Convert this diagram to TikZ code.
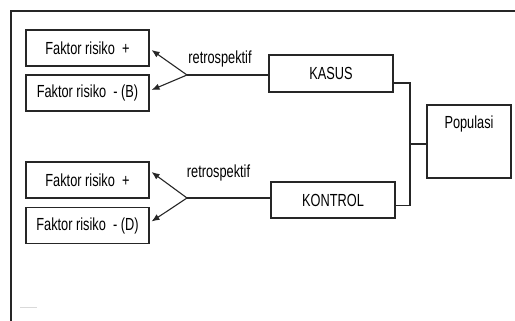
\documentclass[tikz,border=0pt]{standalone}
\usepackage{fontspec}
\setmainfont{Liberation Sans}[FakeStretch=0.73]
\usepackage{tikz}
\usetikzlibrary{arrows.meta,positioning}
\definecolor{inkgrey}{HTML}{262626}

\begin{document}
\begin{tikzpicture}[x=1pt, y=-1pt, line join=miter,
    box/.style={draw=inkgrey, line width=1.1, minimum width=123, minimum height=36,
      inner sep=0, font=\fontsize{17.5}{21}\selectfont},
    link/.style={draw=inkgrey, line width=1.1},
    tip/.style={link, -{Latex[length=8, width=6.5]}},
    word/.style={inner sep=0, font=\fontsize{17.5}{21}\selectfont}]
  \useasboundingbox (0,0) rectangle (515,321);
  % frame
  \draw[inkgrey, line width=1.4] (515,11) -- (11,11) -- (11,321);
  \draw[black!15, line width=0.8] (20,307) -- (37,307);
  % risk factors
  \node[box] (fp1) at (87.5,48) {Faktor risiko\ \ +};
  \node[box] (fb1) at (87.5,93) {Faktor risiko\ \ - (B)};
  \node[box] (fp2) at (87.5,180) {Faktor risiko\ \ +};
  \node[box] (fd2) at (87.5,225.5) {Faktor risiko\ \ - (D)};
  % groups
  \node[box, minimum width=124, minimum height=37] (kasus) at (331,73.5) {KASUS};
  \node[box, minimum width=124] (kontrol) at (333,200) {KONTROL};
  \node[box, minimum width=84, minimum height=73] (pop) at (469,141.5) {};
  \node[word, below=11pt of pop.north] (poptext) {Populasi};
  % forks
  \coordinate (fork1) at (187,75);
  \coordinate (fork2) at (187,198);
  \coordinate (join) at (410,144);
  \draw[link] (fork1) -- (fork1 -| kasus.west);
  \draw[tip] (fork1) -- ([shift={(2,2)}]fp1.east);
  \draw[tip] (fork1) -- ([shift={(2,-3)}]fb1.east);
  \draw[link] (fork2) -- (fork2 -| kontrol.west);
  \draw[tip] (fork2) -- ([shift={(2,-8)}]fp2.east);
  \draw[tip] (fork2) -- ([shift={(2,-4)}]fd2.east);
  \node[word] (retro1) at (220,59) {retrospektif};
  \node[word] (retro2) at (218.5,173) {retrospektif};
  % bracket to population
  \draw[link] ([yshift=-9.5]kasus.east) -| (join) |- ([yshift=-5.5]kontrol.east);
  \draw[link] (join) -- (join -| pop.west);
\end{tikzpicture}
\end{document}
